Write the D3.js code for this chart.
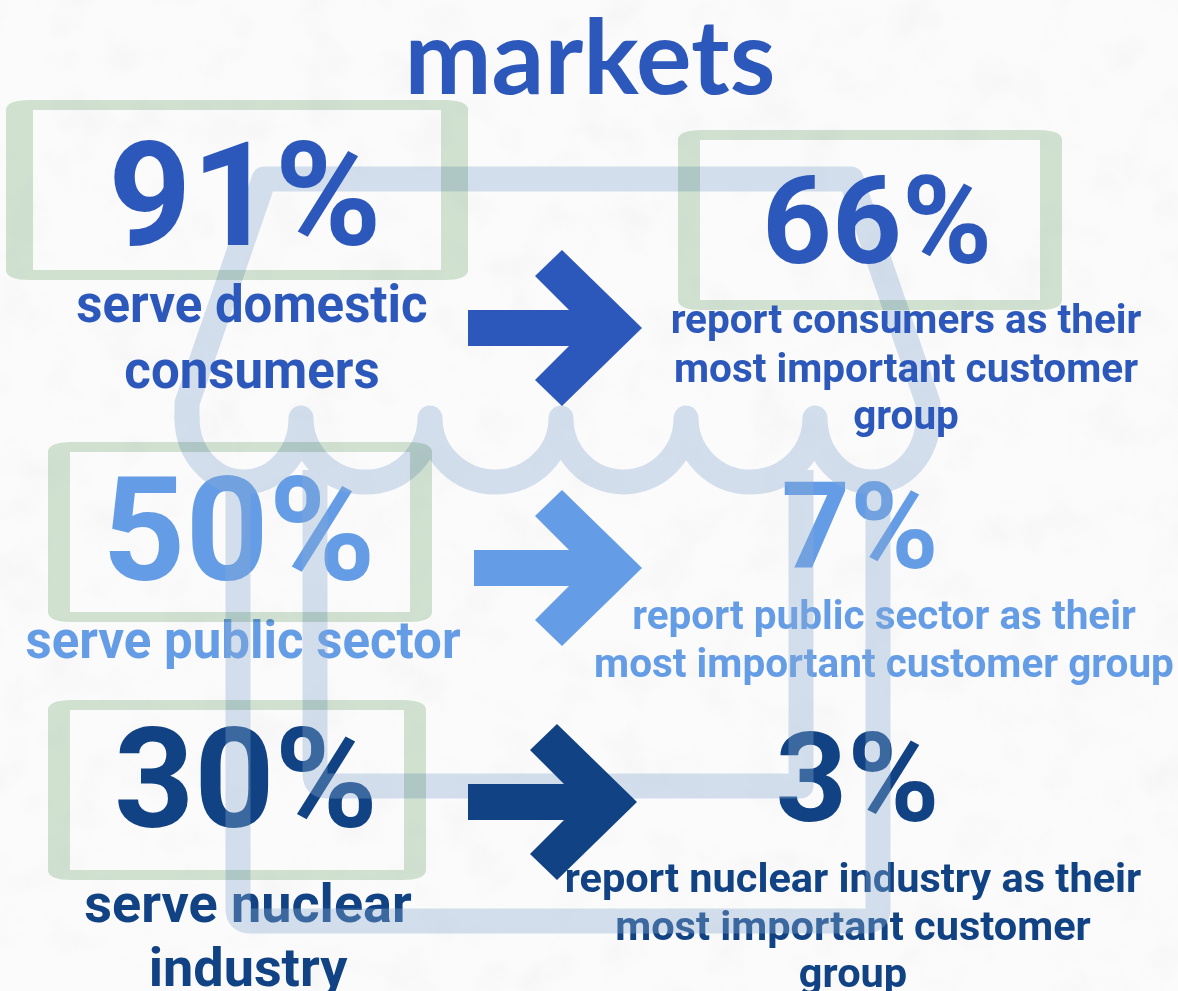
<!DOCTYPE html>
<html>
<head>
<meta charset="utf-8">
<script src="https://cdn.jsdelivr.net/npm/d3@7"></script>
<style>
html, body { margin: 0; padding: 0; background: #fafafa; overflow: hidden; }
text { font-family: Roboto, sans-serif; font-weight: 700; text-anchor: middle; }
</style>
</head>
<body>
<div id="chart"></div>
<script>
// data
var title = "markets";
var serveValues = [91, 50, 30];
var reportValues = [66, 7, 3];
var serveLabels = [
  ["serve domestic", "consumers"],
  ["serve public sector"],
  ["serve nuclear", "industry"]
];
var reportLabels = [
  ["report consumers as their", "most important customer", "group"],
  ["report public sector as their", "most important customer group"],
  ["report nuclear industry as their", "most important customer", "group"]
];

var width = 1178;
var height = 991;
var colors = ["#2d58bb", "#659ce6", "#104284"];
var iconColor = "#8bacd3";
var boxColor = "#d4e5d4";

// layout, one entry per row
var servePos = [
  {x: 245, y: 245, size: 145, lx: 252, ly: [322, 388], lsize: 51},
  {x: 239, y: 580, size: 145, lx: 243, ly: [658], lsize: 51},
  {x: 246, y: 827, size: 140, lx: 248, ly: [922, 986], lsize: 54}
];
var reportPos = [
  {x: 877, y: 263, size: 122, lx: 906, ly: [333, 382, 429], lsize: 40.5},
  {x: 860, y: 568, size: 120, lx: 884, ly: [629, 677], lsize: 40.5},
  {x: 857.5, y: 821, size: 125, lx: 853, ly: [892, 940, 987], lsize: 41.5}
];
var arrows = [
  {x0: 468, tip: 642, cy: 328},
  {x0: 474, tip: 642, cy: 568},
  {x0: 468, tip: 637, cy: 802}
];
var boxes = [
  {x0: 6, x1: 468, y0: 100, y1: 280, ix0: 33, ix1: 441},
  {x0: 678, x1: 1062, y0: 130, y1: 310, ix0: 700, ix1: 1040},
  {x0: 48, x1: 432, y0: 442, y1: 622, ix0: 70, ix1: 410},
  {x0: 48, x1: 426, y0: 700, y1: 880, ix0: 70, ix1: 404}
];

var svg = d3.select("#chart").append("svg")
  .attr("width", width)
  .attr("height", height)
  .style("display", "block");

// paper texture
var filter = svg.append("defs").append("filter")
  .attr("id", "paper")
  .attr("x", 0).attr("y", 0).attr("width", "100%").attr("height", "100%");
filter.append("feTurbulence")
  .attr("type", "fractalNoise")
  .attr("baseFrequency", 0.02)
  .attr("numOctaves", 4)
  .attr("seed", 11);
filter.append("feColorMatrix")
  .attr("type", "matrix")
  .attr("values", "0 0 0 0 0.6  0 0 0 0 0.6  0 0 0 0 0.6  0 0 0 1.1 -0.52");

svg.append("rect").attr("width", width).attr("height", height).attr("fill", "#fbfbfb");
svg.append("rect").attr("width", width).attr("height", height)
  .attr("filter", "url(#paper)").attr("opacity", 0.22);

function drawNumber(parent, values, pos, which) {
  parent.append("g").selectAll("text")
    .data(values.map(function(d, i) { return {v: d, i: i}; }).filter(which))
    .enter().append("text")
    .attr("x", function(d) { return pos[d.i].x; })
    .attr("y", function(d) { return pos[d.i].y; })
    .attr("font-size", function(d) { return pos[d.i].size; })
    .attr("fill", function(d) { return colors[d.i]; })
    .text(function(d) { return d.v + "%"; });
}

function drawLabels(parent, labels, pos, which) {
  labels.forEach(function(lines, i) {
    if (!which({i: i})) return;
    parent.append("g").selectAll("text")
      .data(lines)
      .enter().append("text")
      .attr("x", pos[i].lx)
      .attr("y", function(d, j) { return pos[i].ly[j]; })
      .attr("font-size", pos[i].lsize)
      .attr("fill", colors[i])
      .text(function(d) { return d; });
  });
}

function lowerRow(d) { return d.i > 0; }
function topRow(d) { return d.i === 0; }

// the two lower rows sit under the shop icon
var under = svg.append("g");
drawNumber(under, serveValues, servePos, lowerRow);
drawNumber(under, reportValues, reportPos, lowerRow);
drawLabels(under, serveLabels, servePos, lowerRow);
drawLabels(under, reportLabels, reportPos, lowerRow);

// shop icon
var shop = svg.append("g")
  .attr("opacity", 0.36)
  .attr("fill", "none")
  .attr("stroke", iconColor)
  .attr("stroke-width", 25)
  .attr("stroke-linecap", "round")
  .attr("stroke-linejoin", "round");

shop.append("path").attr("d",
  "M187,418 L187,403 L264,179 L851,179 L928,403 L928,418");

var tips = [187, 301, 430, 561, 686, 815, 928];
shop.append("path").attr("d", tips.slice(1).reduce(function(s, x, i) {
  var rx = (x - tips[i]) / 2;
  return s + "A" + rx + ",64 0 0 0 " + x + ",418";
}, "M" + tips[0] + ",418"));

shop.append("path").attr("stroke-linecap", "butt").attr("d",
  "M238,470 L238,909 Q238,921 250,921 L866,921 Q878,921 878,909 L878,470");
shop.append("path").attr("stroke-linecap", "butt").attr("d",
  "M315,470 L315,774 Q315,786 327,786 L801,786 L801,470");

// arrows
svg.selectAll("path.arrow")
  .data(arrows)
  .enter().append("path")
  .attr("class", "arrow")
  .attr("fill", function(d, i) { return colors[i]; })
  .attr("d", function(d) {
    var p = d3.path();
    p.moveTo(d.x0, d.cy - 18);
    p.lineTo(d.tip - 73, d.cy - 18);
    p.lineTo(d.tip - 107, d.cy - 52);
    p.lineTo(d.tip - 80, d.cy - 78);
    p.lineTo(d.tip, d.cy);
    p.lineTo(d.tip - 80, d.cy + 78);
    p.lineTo(d.tip - 107, d.cy + 52);
    p.lineTo(d.tip - 73, d.cy + 18);
    p.lineTo(d.x0, d.cy + 18);
    p.closePath();
    return p.toString();
  });

// green frames
svg.selectAll("path.box")
  .data(boxes)
  .enter().append("path")
  .attr("class", "box")
  .attr("fill", boxColor)
  .attr("fill-rule", "evenodd")
  .style("mix-blend-mode", "multiply")
  .attr("d", function(d) {
    var rx = 24, ry = 10;
    return "M" + (d.x0 + rx) + "," + d.y0 +
      "L" + (d.x1 - rx) + "," + d.y0 +
      "Q" + d.x1 + "," + d.y0 + " " + d.x1 + "," + (d.y0 + ry) +
      "L" + d.x1 + "," + (d.y1 - ry) +
      "Q" + d.x1 + "," + d.y1 + " " + (d.x1 - rx) + "," + d.y1 +
      "L" + (d.x0 + rx) + "," + d.y1 +
      "Q" + d.x0 + "," + d.y1 + " " + d.x0 + "," + (d.y1 - ry) +
      "L" + d.x0 + "," + (d.y0 + ry) +
      "Q" + d.x0 + "," + d.y0 + " " + (d.x0 + rx) + "," + d.y0 + "Z" +
      "M" + d.ix0 + "," + (d.y0 + ry) +
      "L" + d.ix0 + "," + (d.y1 - ry) +
      "L" + d.ix1 + "," + (d.y1 - ry) +
      "L" + d.ix1 + "," + (d.y0 + ry) + "Z";
  });

// top row and title go over everything
var over = svg.append("g");
drawNumber(over, serveValues, servePos, topRow);
drawNumber(over, reportValues, reportPos, topRow);
drawLabels(over, serveLabels, servePos, topRow);
drawLabels(over, reportLabels, reportPos, topRow);

svg.append("text")
  .attr("x", 590)
  .attr("y", 94)
  .attr("font-size", 104)
  .style("font-family", "Lato, sans-serif")
  .attr("fill", colors[0])
  .text(title);
</script>
</body>
</html>
